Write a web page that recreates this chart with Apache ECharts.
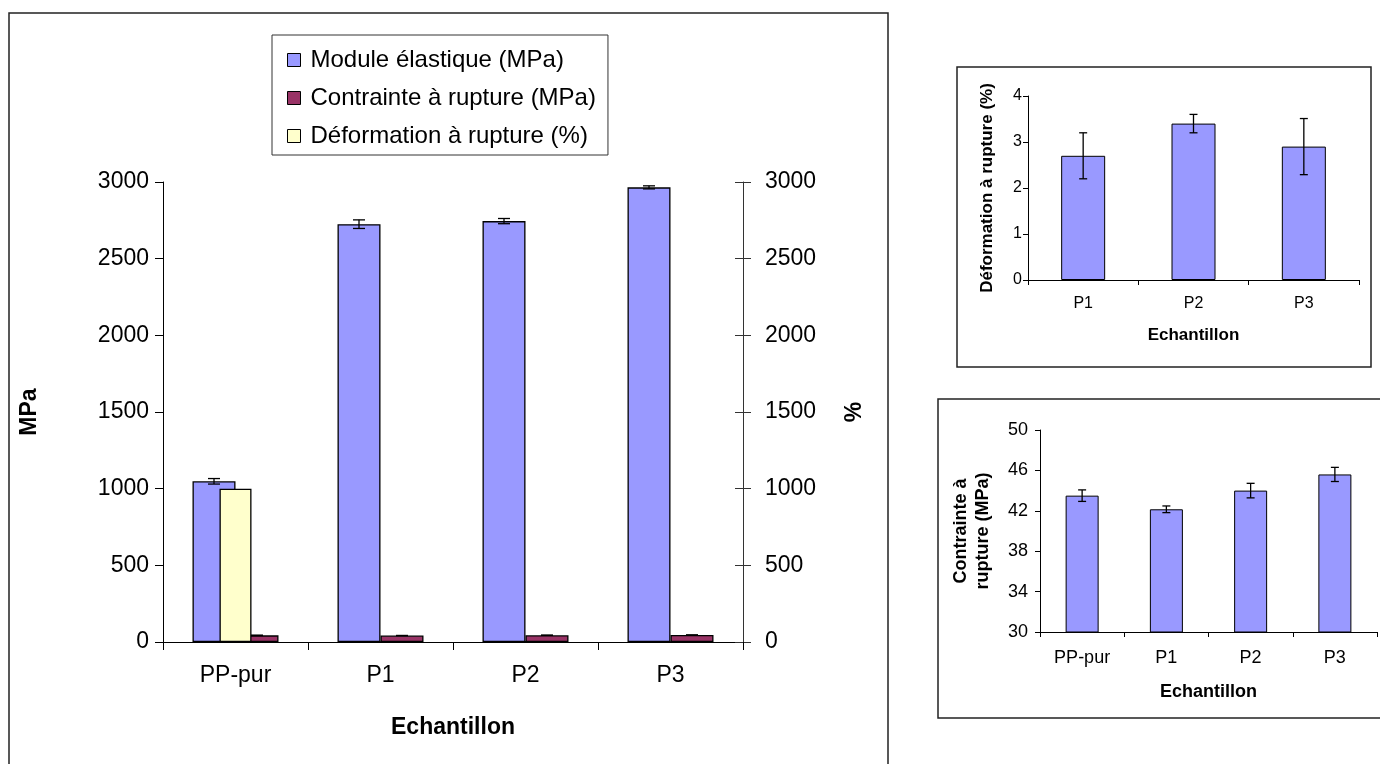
<!DOCTYPE html>
<html><head><meta charset="utf-8">
<script src="https://cdn.jsdelivr.net/npm/echarts@6/dist/echarts.min.js"></script>
<style>html,body{margin:0;padding:0;background:#fff}#c{width:1380px;height:764px}</style>
</head><body><div id="c"></div>
<script>
// ---- Data ----
const categories = ['PP-pur', 'P1', 'P2', 'P3'];
const moduleValues = [1048, 2725, 2745, 2965];
const moduleErrors = [18, 28, 17, 10];
const contrainteValues = [43.5, 42.15, 44.0, 45.6];
const contrainteErrors = [0.57, 0.33, 0.72, 0.7];
const deformationMain = [1000, 2.7, 3.4, 2.9];
const deformCategories = ['P1', 'P2', 'P3'];
const deformValues = [2.7, 3.4, 2.9];
const deformErrors = [0.5, 0.2, 0.61];
const mainTicks = [0, 500, 1000, 1500, 2000, 2500, 3000];
const deformTicks = [0, 1, 2, 3, 4];
const contrainteTicks = [30, 34, 38, 42, 46, 50];

const BLUE = '#9999FF', MAROON = '#993366', YELLOW = '#FFFFCC';
const FONT = '"Liberation Sans", Arial, sans-serif';
const plain = v => String(v);

function errData(vals, errs) { return vals.map((v, i) => [i, v - errs[i], v + errs[i]]); }
function errSeries(data, xi, yi, offset, cap, z) {
  return {
    type: 'custom', xAxisIndex: xi, yAxisIndex: yi, z: z || 5, silent: true,
    data: data,
    renderItem: function (params, api) {
      const lo = api.coord([api.value(0), api.value(1)]);
      const hi = api.coord([api.value(0), api.value(2)]);
      const cx = lo[0] + offset;
      const st = { stroke: '#000', lineWidth: 1.3 };
      return { type: 'group', children: [
        { type: 'line', shape: { x1: cx, y1: lo[1], x2: cx, y2: hi[1] }, style: st },
        { type: 'line', shape: { x1: cx - cap, y1: lo[1], x2: cx + cap, y2: lo[1] }, style: st },
        { type: 'line', shape: { x1: cx - cap, y1: hi[1], x2: cx + cap, y2: hi[1] }, style: st }
      ]};
    }
  };
}

const axisLineBlack = { show: true, lineStyle: { color: '#000', width: 1 } };
const chart = echarts.init(document.getElementById('c'), null, { renderer: 'canvas' });
const MAIN_BW = 43;

const option = {
  animation: false,
  textStyle: { fontFamily: FONT, color: '#000' },
  graphic: [
    { type: 'rect', shape: { x: 9, y: 13, width: 879, height: 760 }, style: { fill: 'none', stroke: '#222', lineWidth: 1.5 }, z: -1 },
    { type: 'rect', shape: { x: 957, y: 67, width: 414, height: 300 }, style: { fill: 'none', stroke: '#222', lineWidth: 1.5 }, z: -1 },
    { type: 'rect', shape: { x: 938, y: 399, width: 450, height: 319 }, style: { fill: 'none', stroke: '#222', lineWidth: 1.5 }, z: -1 }
  ],
  legend: {
    orient: 'vertical', left: 272, top: 35,
    padding: [13, 12, 7, 15], itemGap: 14,
    itemWidth: 13, itemHeight: 13, icon: 'rect',
    borderColor: '#333', borderWidth: 1,
    textStyle: { fontSize: 24, fontFamily: FONT, color: '#000', padding: [0, 0, 0, 5] },
    itemStyle: { borderColor: '#000', borderWidth: 1 },
    data: ['Module élastique (MPa)', 'Contrainte à rupture (MPa)', 'Déformation à rupture (%)']
  },
  grid: [
    { left: 163, right: 637, top: 182, bottom: 122 },
    { left: 1028, right: 21, top: 96, bottom: 484 },
    { left: 1040, right: 3, top: 430, bottom: 132 }
  ],
  xAxis: [
    { type: 'category', gridIndex: 0, data: categories,
      axisLine: axisLineBlack, axisTick: { show: true, length: 8, lineStyle: { color: '#000' } },
      axisLabel: { fontSize: 23, color: '#000', margin: 22, fontFamily: FONT },
      name: 'Echantillon', nameLocation: 'middle', nameGap: 74,
      nameTextStyle: { fontSize: 23, fontWeight: 'bold', color: '#000', fontFamily: FONT } },
    { type: 'category', gridIndex: 0, data: categories, show: false },
    { type: 'category', gridIndex: 1, data: deformCategories,
      axisLine: axisLineBlack, axisTick: { show: true, length: 5, lineStyle: { color: '#000' } },
      axisLabel: { fontSize: 16, color: '#000', margin: 16, fontFamily: FONT },
      name: 'Echantillon', nameLocation: 'middle', nameGap: 47,
      nameTextStyle: { fontSize: 17, fontWeight: 'bold', color: '#000', fontFamily: FONT } },
    { type: 'category', gridIndex: 2, data: categories,
      axisLine: axisLineBlack, axisTick: { show: true, length: 5, lineStyle: { color: '#000' } },
      axisLabel: { fontSize: 18, color: '#000', margin: 17, fontFamily: FONT },
      name: 'Echantillon', nameLocation: 'middle', nameGap: 51,
      nameTextStyle: { fontSize: 18, fontWeight: 'bold', color: '#000', fontFamily: FONT } }
  ],
  yAxis: [
    { type: 'value', gridIndex: 0, min: mainTicks[0], max: mainTicks[mainTicks.length - 1], interval: 500,
      axisLine: axisLineBlack, axisTick: { show: true, length: 8, lineStyle: { color: '#000' } },
      splitLine: { show: false },
      axisLabel: { fontSize: 23, color: '#000', margin: 14, fontFamily: FONT, formatter: plain },
      name: 'MPa', nameLocation: 'middle', nameGap: 122,
      nameTextStyle: { fontSize: 23, fontWeight: 'bold', color: '#000', fontFamily: FONT } },
    { type: 'value', gridIndex: 0, position: 'right', min: mainTicks[0], max: mainTicks[mainTicks.length - 1], interval: 500,
      axisLine: { show: true, lineStyle: { color: '#333' } }, axisTick: { show: true, length: 8, lineStyle: { color: '#333' } },
      splitLine: { show: false },
      axisLabel: { fontSize: 23, color: '#000', margin: 22, fontFamily: FONT, formatter: plain },
      name: '%', nameLocation: 'middle', nameGap: 100, nameRotate: 90,
      nameTextStyle: { fontSize: 23, fontWeight: 'bold', color: '#000', fontFamily: FONT } },
    { type: 'value', gridIndex: 0, position: 'right', min: mainTicks[0], max: mainTicks[mainTicks.length - 1], interval: 500,
      axisLine: { show: false }, axisTick: { show: true, inside: true, length: 8, lineStyle: { color: '#333' } },
      splitLine: { show: false }, axisLabel: { show: false } },
    { type: 'value', gridIndex: 1, min: deformTicks[0], max: deformTicks[deformTicks.length - 1], interval: 1,
      axisLine: axisLineBlack, axisTick: { show: true, length: 5, lineStyle: { color: '#000' } },
      splitLine: { show: false },
      axisLabel: { fontSize: 16, color: '#000', margin: 6, fontFamily: FONT },
      name: 'Déformation à rupture (%)', nameLocation: 'middle', nameGap: 32,
      nameTextStyle: { fontSize: 17, fontWeight: 'bold', color: '#000', fontFamily: FONT } },
    { type: 'value', gridIndex: 2, min: contrainteTicks[0], max: contrainteTicks[contrainteTicks.length - 1], interval: 4,
      axisLine: axisLineBlack, axisTick: { show: true, length: 5, lineStyle: { color: '#000' } },
      splitLine: { show: false },
      axisLabel: { fontSize: 18, color: '#000', margin: 12, fontFamily: FONT },
      name: 'Contrainte à\nrupture (MPa)', nameLocation: 'middle', nameGap: 46,
      nameTextStyle: { fontSize: 18, fontWeight: 'bold', color: '#000', lineHeight: 22, fontFamily: FONT } }
  ],
  series: [
    { name: 'Module élastique (MPa)', type: 'bar', xAxisIndex: 0, yAxisIndex: 0, barWidth: MAIN_BW, barGap: '0%',
      data: moduleValues, itemStyle: { color: BLUE, borderColor: '#000', borderWidth: 1.3 }, z: 2 },
    { name: 'Contrainte à rupture (MPa)', type: 'bar', xAxisIndex: 0, yAxisIndex: 0, barWidth: MAIN_BW, barGap: '0%',
      data: contrainteValues, itemStyle: { color: MAROON, borderColor: '#000', borderWidth: 1.3 }, z: 2 },
    { name: 'Déformation à rupture (%)', type: 'bar', xAxisIndex: 1, yAxisIndex: 1, barWidth: 32,
      data: deformationMain, itemStyle: { color: YELLOW, borderColor: '#000', borderWidth: 1.3 }, z: 3 },
    errSeries(errData(moduleValues, moduleErrors), 0, 0, -MAIN_BW / 2, 6, 4),
    errSeries(errData(contrainteValues, contrainteErrors), 0, 0, MAIN_BW / 2, 6, 4),
    { name: 'inset-deform', type: 'bar', xAxisIndex: 2, yAxisIndex: 3, barWidth: 44,
      data: deformValues, itemStyle: { color: BLUE, borderColor: '#000', borderWidth: 1 } },
    errSeries(errData(deformValues, deformErrors), 2, 3, 0, 4, 5),
    { name: 'inset-contrainte', type: 'bar', xAxisIndex: 3, yAxisIndex: 4, barWidth: 33,
      data: contrainteValues, itemStyle: { color: BLUE, borderColor: '#000', borderWidth: 1 } },
    errSeries(errData(contrainteValues, contrainteErrors), 3, 4, 0, 4, 5)
  ]
};
chart.setOption(option);
</script></body></html>
